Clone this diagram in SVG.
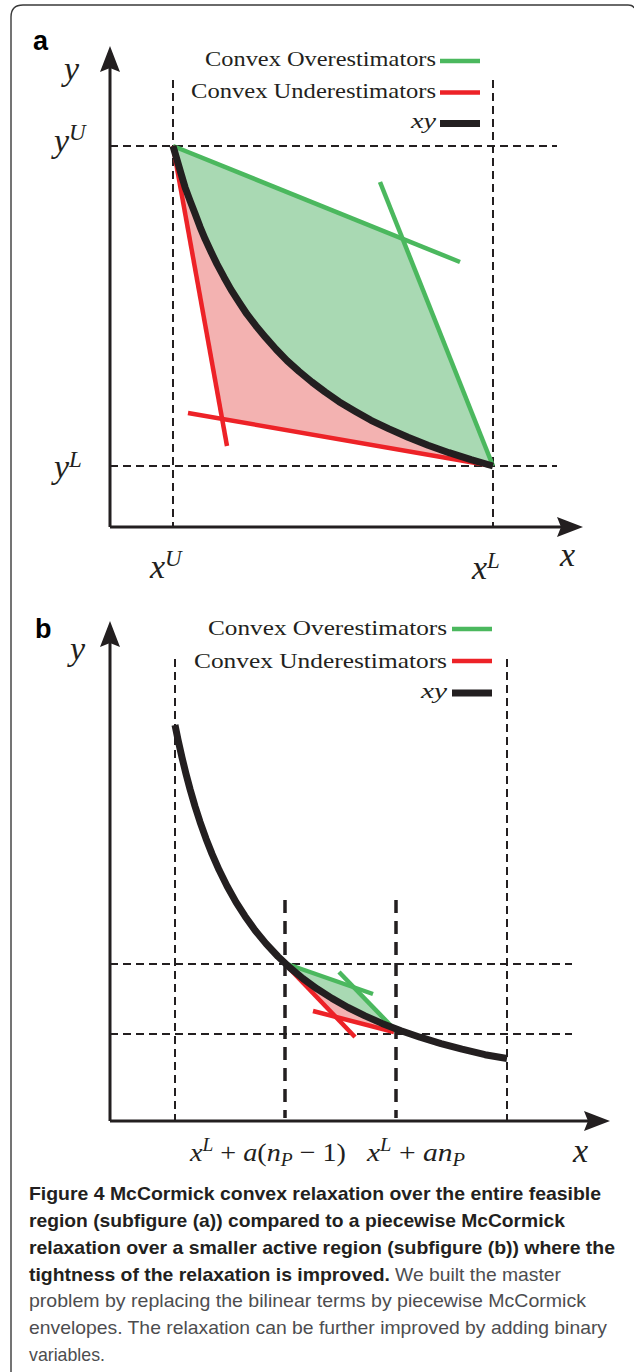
<svg xmlns="http://www.w3.org/2000/svg" width="634" height="1372" viewBox="0 0 634 1372">
<defs>
<style>
.frame{fill:none;stroke:#3a3a3a;stroke-width:1.4}
.axis{fill:none;stroke:#231f20;stroke-width:3}
.dash{fill:none;stroke:#231f20;stroke-width:2;stroke-dasharray:8 5}
.dashb{fill:none;stroke:#231f20;stroke-width:3.5;stroke-dasharray:13 8}
.gl{fill:none;stroke:#4bb85e;stroke-width:4.5}
.rl{fill:none;stroke:#ed2227;stroke-width:4.5}
.kl{fill:none;stroke:#231f20;stroke-width:7;stroke-linejoin:round}
.gf{fill:#a9d9b3;stroke:none}
.rf{fill:#f3b2b1;stroke:none}
.m{font-family:"Liberation Serif",serif;font-style:italic;fill:#231f20}
.r{font-family:"Liberation Serif",serif;font-style:normal;fill:#231f20}
.leg{font-family:"Liberation Serif",serif;font-size:22px;fill:#231f20}
.pl{font-family:"Liberation Sans",Arial,sans-serif;font-weight:bold;font-size:27px;fill:#000}
.cb{font-family:"Liberation Sans",Arial,sans-serif;font-weight:bold;font-size:19px;fill:#231f20}
.cr{font-family:"Liberation Sans",Arial,sans-serif;font-size:19px;fill:#4d4d4f}
</style>
<marker id="arr" markerUnits="userSpaceOnUse" markerWidth="28" markerHeight="24" viewBox="0 0 28 24" refX="6" refY="12" orient="auto">
<path d="M0,2 L26,12 L0,22 L4,12 z" fill="#231f20"/>
</marker>
</defs>

<path class="frame" d="M11,1372 V17 Q11,5 23,5 H628 Q633,5 634,8"/>

<!-- Panel a -->
<g id="panel-a">
<text class="pl" x="33" y="50">a</text>
<g id="a-fills">
<polygon class="gf" points="173,146 403,239 493,466 471,459.7 449,452.7 428,445.2 408,437.3 389,428.9 371,420.3 355,411.2 339,401.7 325,391.9 312,382.1 299,371.4 287,360.6 276,349.2 266,337.9 256,325.9 247,314.2 239,302.1 231,289.6 224,277.2 217,264.1 211,251.8 205,238.8 200,226.8 195,213.6 190,200.6 185,187.1 181,173.5 177,159.8"/>
<polygon class="rf" points="173,146 177,159.8 181,173.5 185,187.1 190,200.6 195,213.6 200,226.8 205,238.8 211,251.8 217,264.1 224,277.2 231,289.6 239,302.1 247,314.2 256,325.9 266,337.9 276,349.2 287,360.6 299,371.4 312,382.1 325,391.9 339,401.7 355,411.2 371,420.3 389,428.9 408,437.3 428,445.2 449,452.7 471,459.7 493,466 222,419"/>
</g>
<g id="a-grid">
<line class="dash" x1="173" y1="80" x2="173" y2="527"/>
<line class="dash" x1="493" y1="80" x2="493" y2="527"/>
<line class="dash" x1="110" y1="146" x2="557" y2="146"/>
<line class="dash" x1="110" y1="466" x2="557" y2="466"/>
</g>
<g id="a-connectors">
<line class="gl" x1="173" y1="146" x2="460" y2="262"/>
<line class="gl" x1="380" y1="182" x2="493" y2="466"/>
<line class="rl" x1="173" y1="146" x2="227" y2="446"/>
<line class="rl" x1="188" y1="413" x2="490" y2="465.5"/>
<polyline class="kl" points="173,146 177,159.8 181,173.5 185,187.1 190,200.6 195,213.6 200,226.8 205,238.8 211,251.8 217,264.1 224,277.2 231,289.6 239,302.1 247,314.2 256,325.9 266,337.9 276,349.2 287,360.6 299,371.4 312,382.1 325,391.9 339,401.7 355,411.2 371,420.3 389,428.9 408,437.3 428,445.2 449,452.7 471,459.7 493,466"/>
<line class="axis" x1="110" y1="527" x2="110" y2="66" marker-end="url(#arr)"/>
<line class="axis" x1="110" y1="527" x2="563" y2="527" marker-end="url(#arr)"/>
</g>
<g id="a-legend">
<text class="leg" x="436" y="66" text-anchor="end" textLength="231" lengthAdjust="spacingAndGlyphs">Convex Overestimators</text>
<line class="gl" x1="440" y1="61" x2="480" y2="61"/>
<text class="leg" x="436" y="98" text-anchor="end" textLength="245" lengthAdjust="spacingAndGlyphs">Convex Underestimators</text>
<line class="rl" x1="440" y1="92.5" x2="480" y2="92.5"/>
<text class="m" x="436" y="128" font-size="22" text-anchor="end" textLength="25" lengthAdjust="spacingAndGlyphs">xy</text>
<line class="kl" x1="440" y1="123.5" x2="480" y2="123.5"/>
</g>
<g id="a-labels">
<text class="m" x="64" y="80" font-size="34">y</text>
<text class="m" x="54" y="152" font-size="34">y<tspan font-size="23" dy="-12">U</tspan></text>
<text class="m" x="54" y="478" font-size="34">y<tspan font-size="23" dy="-11">L</tspan></text>
<text class="m" x="150" y="578" font-size="34">x<tspan font-size="23" dy="-12">U</tspan></text>
<text class="m" x="472" y="579" font-size="34">x<tspan font-size="23" dy="-11">L</tspan></text>
<text class="m" x="560" y="566" font-size="34">x</text>
</g>
</g>

<!-- Panel b -->
<g id="panel-b">
<text class="pl" x="35" y="638">b</text>
<g id="b-fills">
<polygon class="gf" points="285,964 353,987 396,1029.5 382,1023.4 365,1015.9 348,1007.5 332,998.4 317,988.8 303,978.6 290,967.8"/>
<polygon class="rf" points="285,964 290,967.8 303,978.6 317,988.8 332,998.4 348,1007.5 365,1015.9 382,1023.4 396,1029.5 337,1018"/>
</g>
<g id="b-grid">
<line class="dash" x1="175" y1="659" x2="175" y2="1121"/>
<line class="dash" x1="507" y1="659" x2="507" y2="1121"/>
<line class="dash" x1="110" y1="964" x2="572" y2="964"/>
<line class="dash" x1="110" y1="1034" x2="572" y2="1034"/>
<line class="dashb" x1="285" y1="900" x2="285" y2="1118"/>
<line class="dashb" x1="396" y1="900" x2="396" y2="1118"/>
</g>
<g id="b-connectors">
<line class="gl" x1="287" y1="964" x2="373" y2="994" stroke-width="4"/>
<line class="gl" x1="339" y1="972" x2="396" y2="1031" stroke-width="4"/>
<line class="rl" x1="287" y1="966" x2="355" y2="1037" stroke-width="4"/>
<line class="rl" x1="313" y1="1011" x2="394" y2="1032" stroke-width="4"/>
<polyline class="kl" stroke-width="8" points="175,725 178,739.6 182,757.5 186,773.9 190,789 195,806.2 200,821.8 206,838.7 212,853.9 219,869.8 227,886 236,902.1 245,916.2 255,930.2 266,943.6 278,956.5 290,967.8 303,978.6 317,988.8 332,998.4 348,1007.5 365,1015.9 382,1023.4 401,1030.7 420,1037.2 441,1043.6 462,1049.2 485,1054.7 507,1058.5"/>
<line class="axis" x1="110" y1="1121" x2="110" y2="641" marker-end="url(#arr)"/>
<line class="axis" x1="110" y1="1121" x2="590" y2="1121" marker-end="url(#arr)"/>
</g>
<g id="b-legend">
<text class="leg" x="447" y="635" text-anchor="end" textLength="239" lengthAdjust="spacingAndGlyphs">Convex Overestimators</text>
<line class="gl" x1="452" y1="629" x2="492" y2="629"/>
<text class="leg" x="447" y="668" text-anchor="end" textLength="253" lengthAdjust="spacingAndGlyphs">Convex Underestimators</text>
<line class="rl" x1="452" y1="661" x2="492" y2="661"/>
<text class="m" x="447" y="698" font-size="22" text-anchor="end" textLength="26" lengthAdjust="spacingAndGlyphs">xy</text>
<line class="kl" x1="452" y1="693" x2="492" y2="693" stroke-width="8"/>
</g>
<g id="b-labels">
<text class="m" x="70" y="660" font-size="34">y</text>
<text class="m" x="573" y="1162" font-size="34">x</text>
<text class="m" x="190" y="1161" font-size="26" textLength="156" lengthAdjust="spacingAndGlyphs">x<tspan font-size="18" dy="-10">L</tspan><tspan class="r" dy="10"> + </tspan>a<tspan class="r">(</tspan>n<tspan font-size="18" dy="5">P</tspan><tspan class="r" dy="-5"> − 1)</tspan></text>
<text class="m" x="367" y="1161" font-size="26" textLength="98" lengthAdjust="spacingAndGlyphs">x<tspan font-size="18" dy="-10">L</tspan><tspan class="r" dy="10"> + </tspan>an<tspan font-size="18" dy="5">P</tspan></text>
</g>
</g>

<!-- Caption -->
<g id="caption">
<text class="cb" x="29" y="1200" textLength="572" lengthAdjust="spacingAndGlyphs">Figure 4 McCormick convex relaxation over the entire feasible</text>
<text class="cb" x="29" y="1227" textLength="536" lengthAdjust="spacingAndGlyphs">region (subfigure (a)) compared to a piecewise McCormick</text>
<text class="cb" x="29" y="1254" textLength="586" lengthAdjust="spacingAndGlyphs">relaxation over a smaller active region (subfigure (b)) where the</text>
<text class="cb" x="29" y="1281" textLength="361" lengthAdjust="spacingAndGlyphs">tightness of the relaxation is improved.</text>
<text class="cr" x="395" y="1281" textLength="166" lengthAdjust="spacingAndGlyphs">We built the master</text>
<text class="cr" x="29" y="1307" textLength="557" lengthAdjust="spacingAndGlyphs">problem by replacing the bilinear terms by piecewise McCormick</text>
<text class="cr" x="29" y="1334" textLength="578" lengthAdjust="spacingAndGlyphs">envelopes. The relaxation can be further improved by adding binary</text>
<text class="cr" x="29" y="1361" textLength="76" lengthAdjust="spacingAndGlyphs">variables.</text>
</g>
</svg>
